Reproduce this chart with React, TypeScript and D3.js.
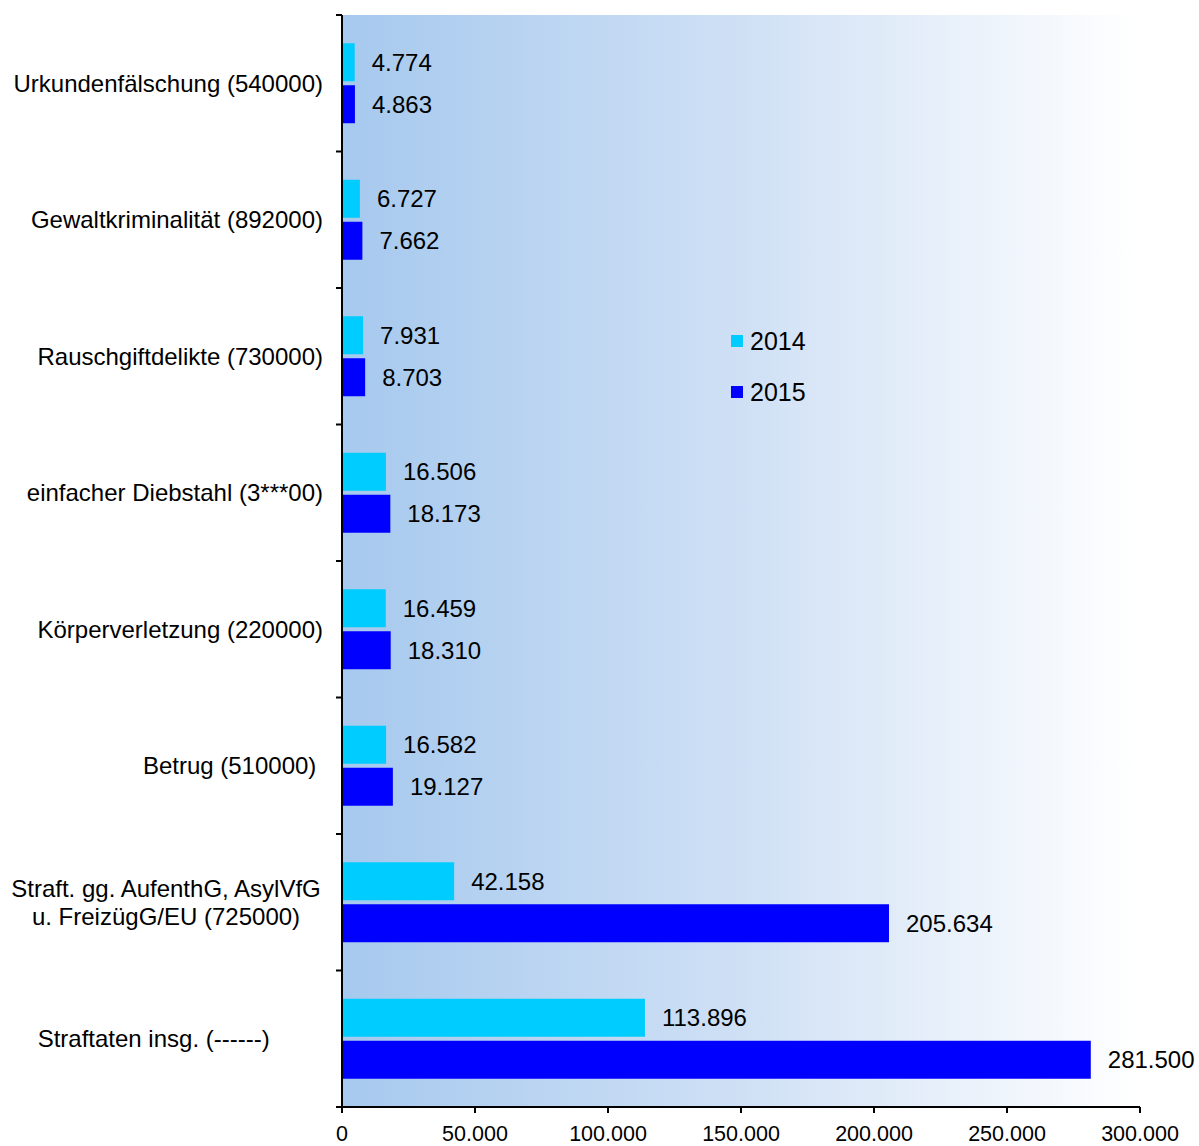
import React from "react";
import * as d3 from "d3";

const categories = [
  "Urkundenfälschung (540000)",
  "Gewaltkriminalität (892000)",
  "Rauschgiftdelikte (730000)",
  "einfacher Diebstahl (3***00)",
  "Körperverletzung (220000)",
  "Betrug (510000) ",
  "Straft. gg. AufenthG, AsylVfG\nu. FreizügG/EU (725000)",
  "Straftaten insg. (------)        ",
];
const series = ["2014", "2015"];
const values2014 = [4774, 6727, 7931, 16506, 16459, 16582, 42158, 113896];
const values2015 = [4863, 7662, 8703, 18173, 18310, 19127, 205634, 281500];
const xTicks = [0, 50000, 100000, 150000, 200000, 250000, 300000];
const colors = ["#00ccff", "#0000ff"];

const W = 1199;
const H = 1146;
const left = 342;
const right = 1140;
const top = 15;
const bottom = 1107;
const font = "'Liberation Sans', Arial, sans-serif";

const locale = d3.formatLocale({ decimal: ",", thousands: ".", grouping: [3], currency: ["", "€"] });
const fmt = locale.format(",d");

export default function App() {
  const x = d3.scaleLinear().domain([0, 300000]).range([left, right]);
  const y = d3.scaleBand().domain(categories).range([top, bottom]);
  const inner = d3
    .scaleBand()
    .domain(series)
    .range([0, y.bandwidth()])
    .paddingInner(0.0952)
    .paddingOuter(0.673);
  const data = [values2014, values2015];
  const bandTicks = d3.range(categories.length + 1).map((i) => top + i * y.step());

  return (
    <svg width={W} height={H} style={{ position: "absolute", left: 0, top: 0, background: "#fff" }} fontFamily={font}>
      <defs>
        <linearGradient id="bg" x1="0" x2="1" y1="0" y2="0">
          <stop offset="0" stopColor="#a6c9ee" />
          <stop offset="0.5" stopColor="#cfe0f5" />
          <stop offset="1" stopColor="#ffffff" />
        </linearGradient>
      </defs>
      <rect x={left} y={top} width={right - left} height={bottom - top} fill="url(#bg)" />
      {categories.map((c, ci) =>
        series.map((s, si) => {
          const v = data[si][ci];
          const by = (y(c) as number) + (inner(s) as number);
          return (
            <g key={c + s}>
              <rect x={x(0)} y={by} width={x(v) - x(0)} height={inner.bandwidth()} fill={colors[si]} />
              <text
                x={x(v) + 17}
                y={by + inner.bandwidth() / 2}
                dominantBaseline="central"
                fontSize={24}
                fill="#000"
              >
                {fmt(v)}
              </text>
            </g>
          );
        })
      )}
      {categories.map((c) => {
        const lines = c.split("\n");
        const cy = (y(c) as number) + y.bandwidth() / 2;
        const lh = 28;
        return (
          <text
            key={c}
            textAnchor={lines.length > 1 ? "middle" : "end"}
            fontSize={24}
            fill="#000"
            style={{ whiteSpace: "pre" }}
          >
            {lines.map((l, i) => (
              <tspan
                key={i}
                x={lines.length > 1 ? 166 : 323}
                y={cy + (i - (lines.length - 1) / 2) * lh}
                dominantBaseline="central"
              >
                {l}
              </tspan>
            ))}
          </text>
        );
      })}
      {/* axes */}
      <line x1={left} x2={left} y1={top} y2={bottom} stroke="#000" strokeWidth={2} />
      <line x1={left} x2={right} y1={bottom} y2={bottom} stroke="#000" strokeWidth={2} />
      {bandTicks.map((t, i) => (
        <line key={"yt" + i} x1={left - 6} x2={left} y1={t} y2={t} stroke="#000" strokeWidth={2} />
      ))}
      {xTicks.map((t) => (
        <g key={"xt" + t}>
          <line x1={x(t)} x2={x(t)} y1={bottom} y2={bottom + 6} stroke="#000" strokeWidth={2} />
          <text x={x(t)} y={1141} textAnchor="middle" fontSize={21.5} fill="#000">
            {fmt(t)}
          </text>
        </g>
      ))}
      {/* legend */}
      {series.map((s, i) => (
        <g key={"lg" + s}>
          <rect x={731} y={335 + i * 51} width={12} height={12} fill={colors[i]} />
          <text x={750} y={341 + i * 51} dominantBaseline="central" fontSize={25} fill="#000">
            {s}
          </text>
        </g>
      ))}
    </svg>
  );
}
